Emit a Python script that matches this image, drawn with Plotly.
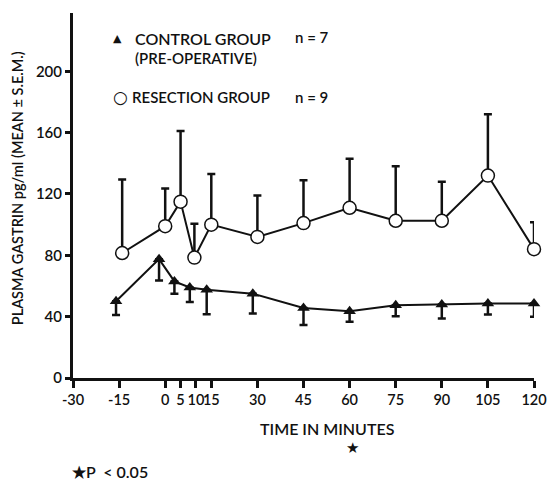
import plotly.graph_objects as go

# ---- data ----
tick_vals = [-30, -15, 0, 5, 10, 15, 30, 45, 60, 75, 90, 105, 120]
tick_text = ["-30", "-15", "0", "5", "10", "15", "30", "45", "60", "75", "90", "105", "120"]
y_tick_vals = [0, 40, 80, 120, 160, 200]

resection_time = [-14, 0, 5, 9.5, 15, 30, 45, 60, 75, 90, 105, 120]
resection_mean = [81.5, 99, 115, 78.5, 100, 92, 101, 111, 102.5, 102.5, 132, 84]
resection_sem = [48, 24.5, 46, 22, 33, 27, 28, 32, 35.5, 25.5, 40, 17.5]

control_time = [-16, -2, 3, 8, 13.5, 28.5, 45, 60, 75, 90, 105, 120]
control_mean = [50, 77.5, 63, 59, 57.5, 55, 45.7, 43.6, 47.4, 48, 48.5, 48.5]
control_sem = [9, 14, 8, 9.4, 16, 13, 11.2, 7, 7.1, 9.2, 7.1, 8.6]

FONT = "Lato"
INK = "#111111"
W = 600

fig = go.Figure()

fig.add_trace(go.Scatter(
    x=control_time, y=control_mean, mode="lines+markers",
    line=dict(color=INK, width=2),
    marker=dict(symbol="triangle-up", size=11, color=INK),
    error_y=dict(type="data", symmetric=False, array=[0] * len(control_sem),
                 arrayminus=control_sem, color=INK, thickness=2.5, width=4),
    cliponaxis=False, showlegend=False,
))

fig.add_trace(go.Scatter(
    x=resection_time, y=resection_mean, mode="lines+markers",
    line=dict(color=INK, width=2),
    marker=dict(symbol="circle", size=13, color="white", line=dict(color=INK, width=1.5)),
    error_y=dict(type="data", symmetric=False, array=resection_sem,
                 arrayminus=[0] * len(resection_sem), color=INK, thickness=2.5, width=4),
    cliponaxis=False, showlegend=False,
))

fig.update_xaxes(
    range=[-30, 120], tickmode="array", tickvals=tick_vals, ticktext=tick_text,
    tickangle=0, showline=True, linecolor=INK, linewidth=3, ticks="outside",
    ticklen=7, tickwidth=3, tickcolor=INK, showgrid=False, zeroline=False,
    tickfont=dict(family=FONT, size=14.5, color=INK, weight=W),
    ticklabeloverflow="allow", automargin=False,
)
fig.update_yaxes(
    range=[0, 238], tickmode="array", tickvals=y_tick_vals,
    showline=True, linecolor=INK, linewidth=3, ticks="outside",
    ticklen=5, tickwidth=2.5, tickcolor=INK, showgrid=False, zeroline=False,
    tickfont=dict(family=FONT, size=15, color=INK, weight=W), automargin=False,
)


def txt(text, x, y, xanchor="left", size=15, family=FONT, xref="paper", angle=0):
    return dict(text=text, xref=xref, yref="paper", x=x, y=y, xanchor=xanchor,
                yanchor="middle", showarrow=False, textangle=angle,
                font=dict(family=family, size=size, color=INK, weight=W))


ann = [
    txt("PLASMA GASTRIN pg/ml (MEAN ± S.E.M.)", -0.1215, 0.52, "center", 14.5, angle=-90),
    txt("TIME IN MINUTES", 0.553, -0.137, "center", 16),
    txt("★", 61, -0.192, "center", 15, "DejaVu Sans", xref="x"),
    txt("★P&nbsp;&nbsp;&lt; 0.05", -0.0065, -0.256, "left", 16),
    # legend block
    txt("▲", 0.0976, 0.9315, "center", 11, "DejaVu Sans"),
    txt("CONTROL GROUP", 0.130, 0.9315, "left", 16),
    txt("n = 7", 0.477, 0.934, "left", 15),
    txt("(PRE-OPERATIVE)", 0.130, 0.877, "left", 15),
    txt("○", 0.104, 0.770, "center", 17, "DejaVu Sans"),
    txt("RESECTION GROUP", 0.124, 0.770, "left", 15),
    txt("n = 9", 0.477, 0.770, "left", 15),
]

fig.update_layout(
    width=547, height=481,
    margin=dict(l=73, r=13, t=13, b=103, autoexpand=False),
    paper_bgcolor="white", plot_bgcolor="white",
    annotations=ann,
    font=dict(family=FONT, color=INK),
)

fig.write_html("out.html", post_script="document.body.style.margin='0';",
               config={"displayModeBar": False})
